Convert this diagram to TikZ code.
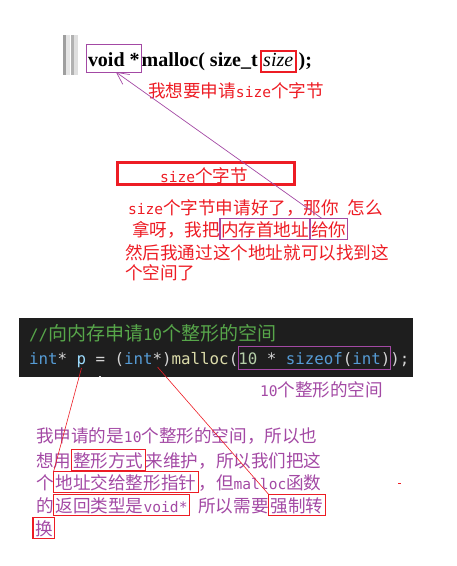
\documentclass[tikz,border=0pt]{standalone}
\usepackage{fontspec}
\setmainfont{Liberation Serif}
\newfontfamily\cjk{Noto Sans CJK SC}
\newfontfamily\codefont{DejaVu Sans Mono}
\usetikzlibrary{arrows.meta}

\definecolor{paintred}{RGB}{237,28,36}
\definecolor{paintpurple}{RGB}{163,73,164}
\definecolor{codebg}{RGB}{30,30,30}
\definecolor{cmt}{RGB}{87,166,74}
\definecolor{kw}{RGB}{86,156,214}
\definecolor{var}{RGB}{156,220,254}
\definecolor{fn}{RGB}{220,220,170}
\definecolor{num}{RGB}{181,206,168}
\definecolor{op}{RGB}{212,212,212}

% half-width latin inside chinese text
\newcommand{\hw}[1]{{\codefont\fontsize{14.6}{18}\selectfont #1}}

\begin{document}
\begin{tikzpicture}[x=1pt,y=-1pt,
  every node/.style={inner sep=0pt,outer sep=0pt,anchor=base west},
  sig/.style={font=\fontsize{20}{22}\selectfont\bfseries},
  redtxt/.style={text=paintred,font=\cjk\fontsize{17.6}{20}\selectfont},
  purtxt/.style={text=paintpurple,font=\cjk\fontsize{17.6}{20}\selectfont},
  code/.style={text=op,font=\codefont\fontsize{15.8}{18}\selectfont},
  pbox/.style={draw=paintpurple,line width=1.1pt,inner xsep=1pt,text height=15pt,text depth=1pt,inner ysep=2.5pt},
  rbox/.style={draw=paintred,line width=1.1pt,inner xsep=2pt,text height=15pt,text depth=1pt,inner ysep=2.5pt},
  rline/.style={draw=paintred,line width=0.6pt},
  pline/.style={draw=paintpurple,line width=0.7pt}]

\useasboundingbox (0,0) rectangle (457,566);

% gripper bars
\fill[gray!75] (63,35) rectangle (66,75);
\fill[gray!20] (66,35) rectangle (70,75);
\fill[gray!60] (71,35) rectangle (74,75);
\fill[gray!25] (74,35) rectangle (78,75);

% prototype
\node[sig,draw=paintpurple,line width=1pt,inner xsep=2pt,text height=19pt,text depth=3pt,inner ysep=3pt] (voidbox) at (86,66) {void *};
\node[sig] (mal) at (voidbox.base east) {malloc( size\_t};
\node[draw=paintred,line width=2.2pt,inner xsep=2.5pt,text height=11pt,text depth=2pt,inner ysep=4pt,font=\fontsize{20}{22}\selectfont\itshape] (sizebox) at ([xshift=3pt]mal.base east) {size};
\node[sig] (tail) at ([xshift=3pt]sizebox.base east) {);};

\node[redtxt] (want) at (148,97) {我想要申请\hw{size}个字节};

% big red box
\node[draw=paintred,line width=3pt,minimum width=177pt,minimum height=22pt,anchor=center] (bigbox) at (205.5,173) {};
\node[redtxt,anchor=base] (bigtxt) at (204,182) {\hw{size}个字节};

% explanation
\node[redtxt] (r1) at (128,214) {\hw{size}个字节申请好了，那你\hw{\ }怎么};
\node[redtxt] (r2a) at (132,236) {拿呀，我把};
\node[redtxt,pbox] (shoudizhi) at (r2a.base east) {内存首地址};
\node[redtxt,pbox] (geini) at (shoudizhi.base east) {给你};
\node[redtxt] (r3) at (125,259) {然后我通过这个地址就可以找到这};
\node[redtxt] (r4) at (125,279) {个空间了};

\draw[pline,{Straight Barb[length=12pt,width=12pt]}-] ([xshift=2pt]voidbox.south) -- ([xshift=12pt]geini.north west);

% code block
\fill[codebg] (19,318) rectangle (413,377);
\node[code] (c1) at (29,340) {\color{cmt}//{\cjk\fontsize{19}{20}\selectfont 向内存申请}10{\cjk\fontsize{19}{20}\selectfont 个整形的空间}};
\node[code] (c2a) at (29,364) {{\color{kw}int}* {\color{var}p} = ({\color{kw}int}*){\color{fn}malloc}(};
\node[code,draw=paintpurple,line width=1pt,text height=16pt,text depth=3pt,inner ysep=2pt] (c2box) at (c2a.base east) {{\color{num}10} * {\color{kw}sizeof}({\color{kw}int})};
\node[code] (c2c) at (c2box.base east) {);};
\draw[op!70,line width=1pt] (99,376) -- (101,376);

\node[purtxt] (tenint) at (260,396) {\hw{10}个整形的空间};

\coordinate (pmark) at ([xshift=52.5pt,yshift=-4pt]c2a.base west);
\coordinate (starmark) at ([xshift=128.5pt,yshift=-3pt]c2a.base west);

% bottom note
\node[purtxt] (b1) at (36,442) {我申请的是\hw{10}个整形的空间，所以也};
\node[purtxt] (b2a) at (36,467) {想用};
\node[purtxt,rbox] (zhengxing) at (b2a.base east) {整形方式};
\node[purtxt] (b2c) at (zhengxing.base east) {来维护，所以我们把这};
\node[purtxt] (b3a) at (36,489) {个};
\node[purtxt,rbox] (dizhi) at (b3a.base east) {地址交给整形指针};
\node[purtxt] (b3c) at (dizhi.base east) {，但\hw{malloc}函数};
\node[purtxt] (b4a) at (36,512) {的};
\node[purtxt,rbox] (fanhui) at (b4a.base east) {返回类型是\hw{void*}};
\node[purtxt] (b4c) at (fanhui.base east) {\hw{\ }所以需要};
\node[purtxt,rbox] (qiangzhi) at (b4c.base east) {强制转};
\node[purtxt,rbox] (huan) at (33,535) {换};

\draw[rline] (pmark) -- (dizhi.north west);
\draw[rline] (starmark) -- (qiangzhi.north west);

\draw[paintred,line width=1pt] (398,483) -- (400.5,483);

\end{tikzpicture}
\end{document}
